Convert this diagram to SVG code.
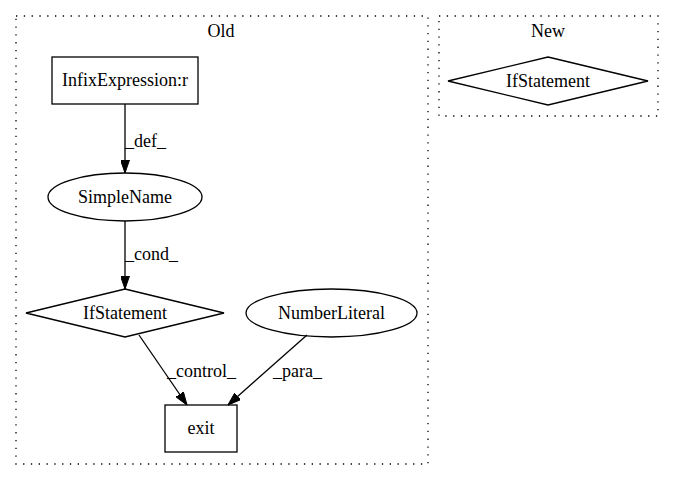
<svg xmlns="http://www.w3.org/2000/svg" width="673" height="480" viewBox="0 0 673 480">
<defs>
<style>
text{font-family:"Liberation Serif","Times New Roman",serif;font-size:18px;fill:#000;}
.n{fill:none;stroke:#000;stroke-width:1.3;}
.cl{fill:none;stroke:#000;stroke-width:1.3;stroke-dasharray:1.3,6.5;}
.e{fill:none;stroke:#000;stroke-width:1.3;}
.mid{text-anchor:middle;}
</style>
<marker id="arr" markerWidth="13" markerHeight="9" refX="13" refY="4.5" orient="auto" markerUnits="userSpaceOnUse">
<polygon points="0,0 13,4.5 0,9" fill="#000" stroke="#000" stroke-width="1"/>
</marker>
</defs>
<rect width="673" height="480" fill="#fff"/>
<g id="cluster_old">
<rect class="cl" x="16" y="16" width="412" height="448"/>
<text class="mid" x="221" y="37">Old</text>
</g>
<g id="cluster_new">
<rect class="cl" x="439" y="16" width="219" height="100"/>
<text class="mid" x="548" y="37">New</text>
</g>
<g id="node_infix">
<rect class="n" x="52" y="57" width="146" height="47"/>
<text class="mid" x="125" y="86">InfixExpression:r</text>
</g>
<g id="node_simplename">
<ellipse class="n" cx="125" cy="197" rx="77" ry="24"/>
<text class="mid" x="125" y="203">SimpleName</text>
</g>
<g id="node_if_old">
<polygon class="n" points="125,289 224,313 125,337 26,313"/>
<text class="mid" x="125" y="319">IfStatement</text>
</g>
<g id="node_numberliteral">
<ellipse class="n" cx="331.5" cy="313" rx="85.5" ry="24"/>
<text class="mid" x="331.5" y="319">NumberLiteral</text>
</g>
<g id="node_exit">
<rect class="n" x="165" y="405" width="72" height="47"/>
<text class="mid" x="201" y="434">exit</text>
</g>
<g id="node_if_new">
<polygon class="n" points="548,57 648,81 548,105 448,81"/>
<text class="mid" x="548" y="87">IfStatement</text>
</g>
<g id="connectors">
<line class="e" x1="125" y1="104" x2="125" y2="173" marker-end="url(#arr)"/>
<text x="125" y="147">_def_</text>
<line class="e" x1="125" y1="221" x2="125" y2="289" marker-end="url(#arr)"/>
<text x="125" y="260">_cond_</text>
<line class="e" x1="139" y1="335" x2="187" y2="405" marker-end="url(#arr)"/>
<text x="167" y="377">_control_</text>
<line class="e" x1="307" y1="335" x2="228" y2="405" marker-end="url(#arr)"/>
<text x="273" y="377">_para_</text>
</g>
</svg>
